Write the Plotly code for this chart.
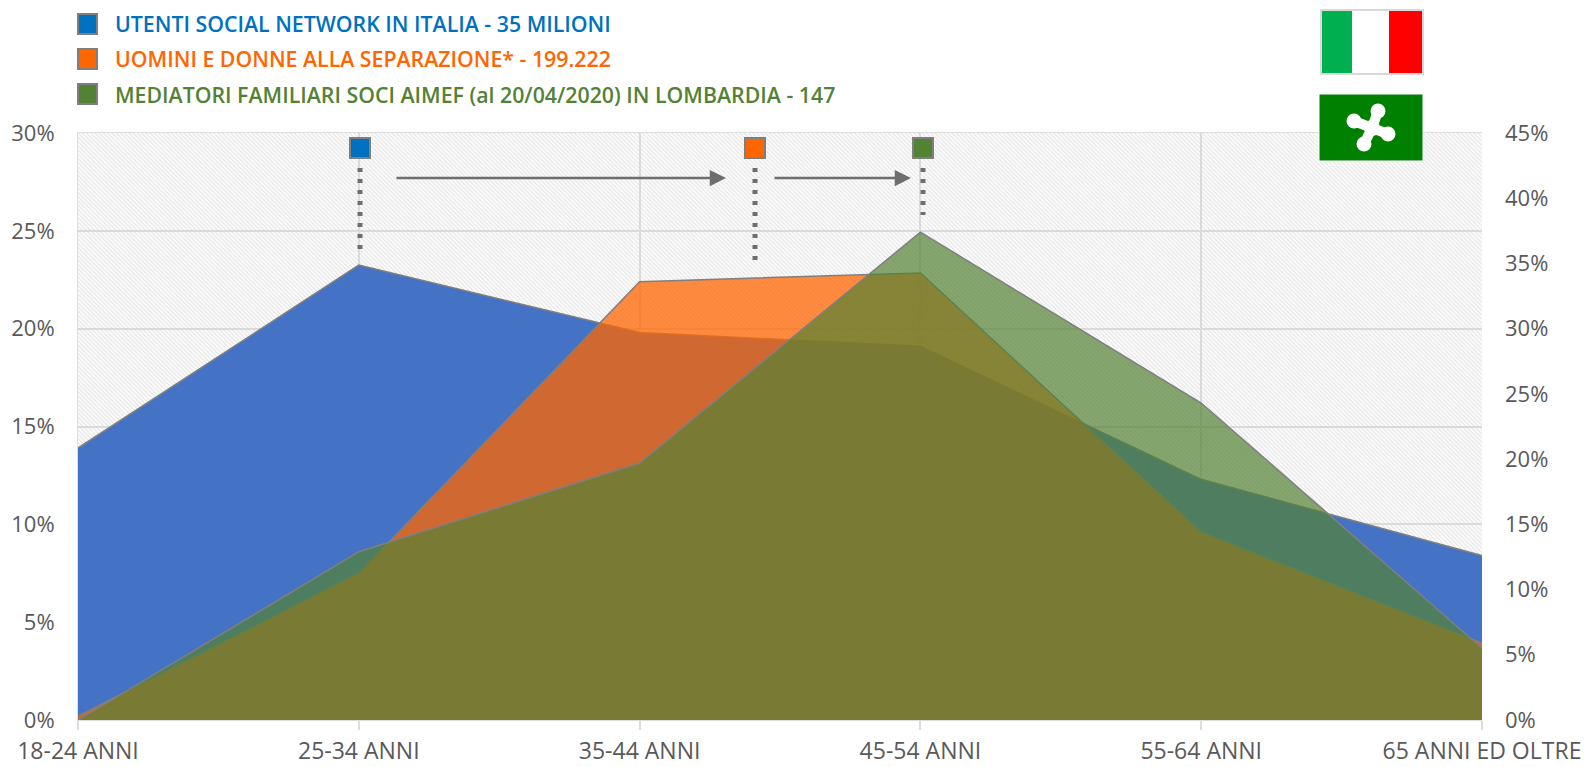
import plotly.graph_objects as go

categories = ["18-24 ANNI", "25-34 ANNI", "35-44 ANNI", "45-54 ANNI", "55-64 ANNI", "65 ANNI ED OLTRE"]
utenti = [13.9, 23.25, 19.8, 19.1, 12.3, 8.4]
uomini_donne = [0.2, 7.5, 22.4, 22.85, 9.6, 3.93]
mediatori = [0.0, 12.9, 19.7, 37.4, 24.3, 5.5]
ticks_left = [0, 5, 10, 15, 20, 25, 30]
ticks_right = [0, 5, 10, 15, 20, 25, 30, 35, 40, 45]
legend_labels = ["UTENTI SOCIAL NETWORK IN ITALIA - 35 MILIONI",
                 "UOMINI E DONNE ALLA SEPARAZIONE* - 199.222",
                 "MEDIATORI FAMILIARI SOCI AIMEF (al 20/04/2020) IN LOMBARDIA - 147"]
legend_colors = ["#0070C0", "#FF6600", "#548235"]

W, H = 1584, 767
L, R, T, B = 78, 1482, 133, 720
px = lambda x: (x - L) / (R - L)
py = lambda y: (B - y) / (B - T)
xs = list(range(len(categories)))
GREY = "#6E6E6E"

fig = go.Figure()
fig.add_trace(go.Scatter(x=xs, y=[30] * 6, mode="none", fill="tozeroy", hoverinfo="skip",
                         fillcolor="rgba(0,0,0,0)",
                         fillpattern=dict(shape="\\", size=3, solidity=0.5, fgcolor="#D2D2D2", bgcolor="rgba(255,255,255,0)")))
line = dict(color="#7F7F7F", width=1.5)
fig.add_trace(go.Scatter(x=xs, y=utenti, mode="lines", fill="tozeroy", fillcolor="#4472C4", line=line))
fig.add_trace(go.Scatter(x=xs, y=uomini_donne, mode="lines", fill="tozeroy", fillcolor="rgba(255,102,0,0.75)", line=line))
fig.add_trace(go.Scatter(x=xs, y=mediatori, mode="lines", fill="tozeroy", fillcolor="rgba(84,130,53,0.7)", line=line, yaxis="y2"))

shapes, annotations = [], []

def rect(x0, y0, x1, y1, fill, border=None, bw=2):
    shapes.append(dict(type="rect", xref="paper", yref="paper", x0=px(x0), x1=px(x1), y0=py(y0), y1=py(y1),
                       fillcolor=fill, line=dict(color=border or fill, width=bw), layer="above"))

def seg(x0, y0, x1, y1, color, w, dash="solid"):
    shapes.append(dict(type="line", xref="paper", yref="paper", x0=px(x0), x1=px(x1), y0=py(y0), y1=py(y1),
                       line=dict(color=color, width=w, dash=dash), layer="above"))

def circle(cx, cy, r, fill):
    shapes.append(dict(type="circle", xref="paper", yref="paper", x0=px(cx - r), x1=px(cx + r),
                       y0=py(cy + r), y1=py(cy - r), fillcolor=fill, line=dict(width=0), layer="above"))

# legend
for i, (lab, col) in enumerate(zip(legend_labels, legend_colors)):
    yc = 24 + 35 * i
    rect(78, yc - 10, 97, yc + 10, col, "#7F7F7F")
    annotations.append(dict(text=lab, xref="paper", yref="paper", x=px(112.5), y=py(yc), xanchor="left", yanchor="middle",
                            showarrow=False, font=dict(family="Open Sans", size=21.3, color=col, weight=600)))

# markers and dotted lines
for xc, col, y_end in [(360, "#0070C0", 250), (755, "#FF6600", 262), (923, "#548235", 215)]:
    seg(xc, 168, xc, y_end, GREY, 5, "4px,7px")
    rect(xc - 10, 138, xc + 10, 158, col, "#7F7F7F")

# arrows
for x0, x1 in [(395, 726), (773, 911)]:
    annotations.append(dict(text="", xref="paper", yref="paper", x=px(x1), y=py(178), ax=x0 - x1, ay=0,
                            showarrow=True, arrowhead=2, arrowsize=1.3, arrowwidth=2.5, arrowcolor=GREY))

# flags
rect(1321, 10, 1423, 74, "#FFFFFF", "#D9D9D9")
rect(1322, 11, 1352, 73, "#00B050", "#00B050", 0)
rect(1389, 11, 1422, 73, "#FF0000", "#FF0000", 0)
rect(1319, 94, 1423, 161, "#008000", "#FFFFFF", 1)
cx, cy = 1372, 128
for lx, ly in [(1378, 111), (1354, 121), (1388, 134), (1364, 144)]:
    seg(cx, cy, lx, ly, "#FFFFFF", 10)
    circle(lx, ly, 7.5, "#FFFFFF")
circle(cx, cy, 8, "#FFFFFF")

x_font = dict(family="Open Sans", size=23, color="#595959")
y_font = dict(family="Open Sans", size=22, color="#595959")
fig.update_layout(
    width=W, height=H, showlegend=False, paper_bgcolor="white", plot_bgcolor="white",
    margin=dict(l=L, r=W - R, t=T, b=H - B, pad=0),
    shapes=shapes, annotations=annotations, font=y_font,
    xaxis=dict(tickmode="array", tickvals=xs, ticktext=categories, range=[0, 5], showgrid=True, gridcolor="#DDDDDD",
               gridwidth=1.5, ticks="outside", ticklen=9, tickcolor="#DDDDDD", tickwidth=1.5, zeroline=False,
               showline=True, linecolor="#DDDDDD", mirror=True, tickfont=x_font, automargin=False, ticklabelstandoff=1),
    yaxis=dict(range=[0, 30], tickmode="array", tickvals=ticks_left, ticktext=[f"{v}%" for v in ticks_left],
               gridcolor="#DDDDDD", gridwidth=1.5, zeroline=False, showline=True, linecolor="#DDDDDD",
               ticklabelstandoff=18, tickfont=y_font, automargin=False),
    yaxis2=dict(range=[0, 45], overlaying="y", side="right", tickmode="array", tickvals=ticks_right,
                ticktext=[f"{v}%" for v in ticks_right], showgrid=False, zeroline=False,
                ticklabelstandoff=22, tickfont=y_font, automargin=False),
)
fig.write_html("out.html", post_script="document.body.style.margin='0';", config={"displayModeBar": False})
